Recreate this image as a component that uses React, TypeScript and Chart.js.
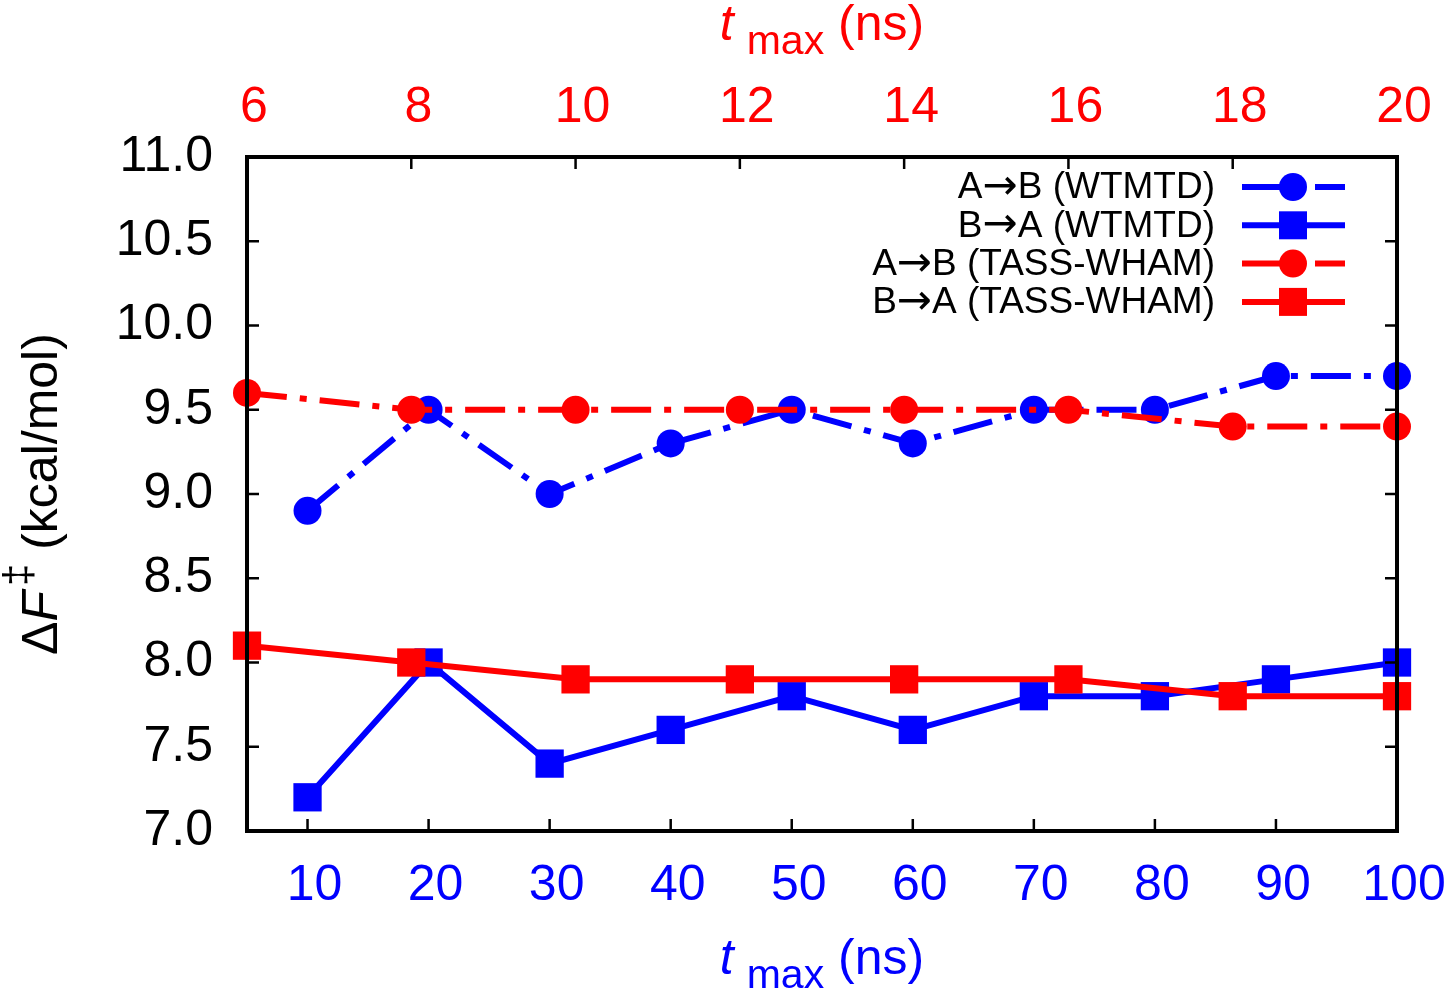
import { useEffect, useRef } from "react";
import { Chart, registerables } from "chart.js";

Chart.register(...registerables);

// WTMTD runs (bottom axis, ns)
const wtmtdTimes = [10, 20, 30, 40, 50, 60, 70, 80, 90, 100];
const wtmtdAB = [8.9, 9.5, 9.0, 9.3, 9.5, 9.3, 9.5, 9.5, 9.7, 9.7];
const wtmtdBA = [7.2, 8.0, 7.4, 7.6, 7.8, 7.6, 7.8, 7.8, 7.9, 8.0];

// TASS-WHAM runs (top axis, ns)
const tassTimes = [6, 8, 10, 12, 14, 16, 18, 20];
const tassAB = [9.6, 9.5, 9.5, 9.5, 9.5, 9.5, 9.4, 9.4];
const tassBA = [8.1, 8.0, 7.9, 7.9, 7.9, 7.9, 7.8, 7.8];

const bottomTicks = [10, 20, 30, 40, 50, 60, 70, 80, 90, 100];
const topTicks = [6, 8, 10, 12, 14, 16, 18, 20];
const yTicks = [7.0, 7.5, 8.0, 8.5, 9.0, 9.5, 10.0, 10.5, 11.0];

const legendLabels = ["A→B (WTMTD)", "B→A (WTMTD)", "A→B (TASS-WHAM)", "B→A (TASS-WHAM)"];

const BLUE = "#0000ff";
const RED = "#ff0000";
const FONT = '"Liberation Sans", Arial, Helvetica, sans-serif';
const DASH = [40, 13, 7, 13];

// draws a label, with the arrow in a font that has a long arrow glyph
const drawLabelRight = (ctx: any, label: string, xRight: number, y: number) => {
  const parts = label.split("→");
  const textFont = `37px ${FONT}`;
  const arrowFont = `42px "DejaVu Sans", sans-serif`;
  ctx.font = textFont;
  const w0 = ctx.measureText(parts[0]).width;
  const w2 = ctx.measureText(parts[1]).width;
  ctx.font = arrowFont;
  const w1 = ctx.measureText("→").width;
  let x = xRight - (w0 + w1 + w2);
  ctx.textAlign = "left";
  ctx.font = textFont;
  ctx.fillText(parts[0], x, y);
  x += w0;
  ctx.font = arrowFont;
  ctx.fillText("→", x, y);
  x += w1;
  ctx.font = textFont;
  ctx.fillText(parts[1], x, y);
};

// frame, inner ticks, axis titles and the legend, gnuplot style
const gnuplotPlugin = {
  id: "gnuplotDecor",
  afterDatasetsDraw(chart: any) {
    const { ctx, chartArea } = chart;
    const { left, right, top, bottom } = chartArea;
    ctx.save();
    ctx.strokeStyle = "#000";
    ctx.lineWidth = 2.5;
    ctx.beginPath();
    const ys = chart.scales.y;
    yTicks.forEach((v) => {
      if (v <= ys.min || v >= ys.max) return;
      const p = ys.getPixelForValue(v);
      ctx.moveTo(left, p);
      ctx.lineTo(left + 12, p);
      ctx.moveTo(right, p);
      ctx.lineTo(right - 12, p);
    });
    const xb = chart.scales.x;
    bottomTicks.forEach((v) => {
      if (v <= xb.min || v >= xb.max) return;
      const p = xb.getPixelForValue(v);
      ctx.moveTo(p, bottom);
      ctx.lineTo(p, bottom - 12);
    });
    const xt = chart.scales.x2;
    topTicks.forEach((v) => {
      if (v <= xt.min || v >= xt.max) return;
      const p = xt.getPixelForValue(v);
      ctx.moveTo(p, top);
      ctx.lineTo(p, top + 12);
    });
    ctx.stroke();
    ctx.lineWidth = 4;
    ctx.strokeRect(left, top, right - left, bottom - top);
    ctx.restore();
  },
  afterDraw(chart: any) {
    const { ctx, chartArea } = chart;
    const { left, right, top, bottom } = chartArea;
    const cx = (left + right) / 2;
    const cy = (top + bottom) / 2;
    const main = `50px ${FONT}`;
    const ital = `italic 50px ${FONT}`;
    const sub = `41px ${FONT}`;

    const drawTmax = (baseY: number, color: string) => {
      ctx.save();
      ctx.fillStyle = color;
      ctx.textAlign = "left";
      ctx.textBaseline = "alphabetic";
      ctx.font = ital;
      const wt = ctx.measureText("t").width;
      ctx.font = sub;
      const wm = ctx.measureText("max").width;
      ctx.font = main;
      const wn = ctx.measureText(" (ns)").width;
      const gap = 13;
      let x = cx - (wt + gap + wm + wn) / 2;
      ctx.font = ital;
      ctx.fillText("t", x, baseY);
      x += wt + gap;
      ctx.font = sub;
      ctx.fillText("max", x, baseY + 14);
      x += wm;
      ctx.font = main;
      ctx.fillText(" (ns)", x, baseY);
      ctx.restore();
    };
    drawTmax(top - 117, RED);
    drawTmax(bottom + 143, BLUE);

    // y title, rotated
    ctx.save();
    ctx.translate(57, cy);
    ctx.rotate(-Math.PI / 2);
    ctx.fillStyle = "#000";
    ctx.textAlign = "left";
    ctx.textBaseline = "alphabetic";
    ctx.font = main;
    const wd = ctx.measureText("Δ").width;
    const wr = ctx.measureText(" (kcal/mol)").width;
    ctx.font = ital;
    const wf = ctx.measureText("F").width;
    ctx.font = `40px ${FONT}`;
    const wdd = ctx.measureText("‡").width;
    let x = -(wd + wf + 5 + wdd + wr) / 2;
    ctx.font = main;
    ctx.fillText("Δ", x, 0);
    x += wd;
    ctx.font = ital;
    ctx.fillText("F", x, 0);
    x += wf + 5;
    ctx.font = `40px ${FONT}`;
    ctx.fillText("‡", x, -25);
    x += wdd;
    ctx.font = main;
    ctx.fillText(" (kcal/mol)", x, 0);
    ctx.restore();

    // legend inside the plot, top right
    const styles = [
      { color: BLUE, dash: DASH, marker: "circle" },
      { color: BLUE, dash: [], marker: "square" },
      { color: RED, dash: DASH, marker: "circle" },
      { color: RED, dash: [], marker: "square" },
    ];
    ctx.save();
    legendLabels.forEach((label, i) => {
      const y = top + 30 + i * 38.3;
      const st = styles[i];
      ctx.fillStyle = "#000";
      ctx.textBaseline = "middle";
      drawLabelRight(ctx, label, right - 182, y + 1);
      ctx.strokeStyle = st.color;
      ctx.fillStyle = st.color;
      ctx.lineWidth = 6;
      ctx.setLineDash(st.dash);
      ctx.beginPath();
      ctx.moveTo(right - 155, y);
      ctx.lineTo(right - 52, y);
      ctx.stroke();
      ctx.setLineDash([]);
      const mx = right - 104;
      ctx.beginPath();
      if (st.marker === "circle") {
        ctx.arc(mx, y, 14, 0, Math.PI * 2);
      } else {
        ctx.rect(mx - 14, y - 14, 28, 28);
      }
      ctx.fill();
    });
    ctx.restore();
  },
};

const tickFont = { family: FONT, size: 50 };

export default function App() {
  const canvasRef = useRef<HTMLCanvasElement | null>(null);

  useEffect(() => {
    const canvas = canvasRef.current;
    if (!canvas) return;
    const ctx = canvas.getContext("2d");
    if (!ctx) return;

    const chart = new Chart(ctx, {
      type: "line",
      data: {
        datasets: [
          {
            label: legendLabels[0],
            data: wtmtdTimes.map((t, i) => ({ x: t, y: wtmtdAB[i] })),
            xAxisID: "x",
            yAxisID: "y",
            borderColor: BLUE,
            backgroundColor: BLUE,
            borderWidth: 6,
            borderDash: DASH,
            pointStyle: "circle",
            pointRadius: 14,
            pointBorderWidth: 0,
            order: 2,
            clip: false,
          },
          {
            label: legendLabels[1],
            data: wtmtdTimes.map((t, i) => ({ x: t, y: wtmtdBA[i] })),
            xAxisID: "x",
            yAxisID: "y",
            borderColor: BLUE,
            backgroundColor: BLUE,
            borderWidth: 6,
            pointStyle: "rect",
            pointRadius: 20,
            pointBorderWidth: 0,
            order: 2,
            clip: false,
          },
          {
            label: legendLabels[2],
            data: tassTimes.map((t, i) => ({ x: t, y: tassAB[i] })),
            xAxisID: "x2",
            yAxisID: "y",
            borderColor: RED,
            backgroundColor: RED,
            borderWidth: 6,
            borderDash: DASH,
            pointStyle: "circle",
            pointRadius: 14,
            pointBorderWidth: 0,
            order: 1,
            clip: false,
          },
          {
            label: legendLabels[3],
            data: tassTimes.map((t, i) => ({ x: t, y: tassBA[i] })),
            xAxisID: "x2",
            yAxisID: "y",
            borderColor: RED,
            backgroundColor: RED,
            borderWidth: 6,
            pointStyle: "rect",
            pointRadius: 20,
            pointBorderWidth: 0,
            order: 1,
            clip: false,
          },
        ],
      },
      options: {
        responsive: false,
        animation: false,
        events: [],
        layout: { padding: { left: 0, top: 0, right: 50, bottom: 0 } },
        plugins: {
          legend: { display: false },
          tooltip: { enabled: false },
        },
        scales: {
          x: {
            type: "linear",
            position: "bottom",
            min: 5,
            max: 100,
            afterBuildTicks: (s: any) => {
              s.ticks = bottomTicks.map((value) => ({ value }));
            },
            afterFit: (s: any) => {
              s.height = 160;
              s.paddingLeft = 0;
              s.paddingRight = 0;
            },
            grid: { display: false, drawTicks: false },
            border: { display: false },
            ticks: {
              color: BLUE,
              font: tickFont,
              padding: 25,
              labelOffset: 7,
              autoSkip: false,
              maxRotation: 0,
            },
          },
          x2: {
            type: "linear",
            position: "top",
            min: 6,
            max: 20,
            afterBuildTicks: (s: any) => {
              s.ticks = topTicks.map((value) => ({ value }));
            },
            afterFit: (s: any) => {
              s.height = 157;
              s.paddingLeft = 0;
              s.paddingRight = 0;
            },
            grid: { display: false, drawTicks: false },
            border: { display: false },
            ticks: {
              color: RED,
              font: tickFont,
              padding: 19,
              labelOffset: 7,
              autoSkip: false,
              maxRotation: 0,
            },
          },
          y: {
            type: "linear",
            position: "left",
            min: 7,
            max: 11,
            afterBuildTicks: (s: any) => {
              s.ticks = yTicks.map((value) => ({ value }));
            },
            afterFit: (s: any) => {
              s.width = 247;
              s.paddingTop = 0;
              s.paddingBottom = 0;
            },
            grid: { display: false, drawTicks: false },
            border: { display: false },
            ticks: {
              color: "#000",
              font: tickFont,
              padding: 34,
              callback: (v: any) => Number(v).toFixed(1),
            },
          },
        },
      },
      plugins: [gnuplotPlugin],
    });

    return () => {
      chart.destroy();
    };
  }, []);

  return (
    <div style={{ position: "absolute", left: 0, top: 0, width: 1447, height: 991, background: "#fff" }}>
      <canvas ref={canvasRef} width={1447} height={991} style={{ display: "block" }}></canvas>
    </div>
  );
}
